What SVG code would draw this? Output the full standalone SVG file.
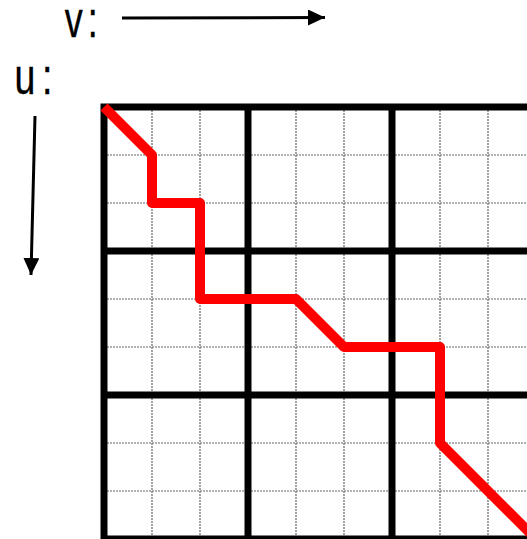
<svg xmlns="http://www.w3.org/2000/svg" width="527" height="539" viewBox="0 0 527 539">
<style>
.lbl{font-family:"Liberation Sans",Arial,sans-serif;font-size:50px;fill:#000;stroke:#000;stroke-width:0.4}
.thin{stroke:#666;stroke-width:1.2;stroke-dasharray:2 1;fill:none}
.thick{stroke:#000;stroke-width:7;fill:none}
.axis{stroke:#000;stroke-width:3;fill:none}
</style>
<defs>
<marker id="ah" markerUnits="userSpaceOnUse" markerWidth="18" markerHeight="16" refX="17" refY="8" orient="auto">
<path d="M0,0 L17,8 L0,16 Z" fill="#000"/>
</marker>
</defs>
<rect width="527" height="539" fill="#fff"/>
<g id="labels">
<text class="lbl" transform="translate(65,37) scale(0.72,1)" x="-0.35" letter-spacing="7">v:</text>
<text class="lbl" transform="translate(14.5,94) scale(0.75,1)" letter-spacing="9">u:</text>
</g>
<g id="axes">
<line class="axis" x1="122" y1="18" x2="325" y2="17.5" marker-end="url(#ah)"/>
<line class="axis" x1="35" y1="116" x2="31" y2="275" marker-end="url(#ah)"/>
</g>
<g id="grid-fine">
<path class="thin" d="M152,107V539M200,107V539M296,107V539M344,107V539M440,107V539M488,107V539M104,155H527M104,203H527M104,299H527M104,347H527M104,443H527M104,491H527"/>
</g>
<g id="grid-thick">
<path class="thick" d="M104,103.5V539M248,103.5V539M392,103.5V539M100.5,107H527M100.5,251H527M100.5,395H527M100.5,539H527"/>
</g>
<g id="path">
<polyline points="104,107 152,155 152,203 200,203 200,299 296,299 344,347 440,347 440,443 536,539" fill="none" stroke="#f00" stroke-width="10" stroke-linejoin="round"/>
</g>
</svg>
